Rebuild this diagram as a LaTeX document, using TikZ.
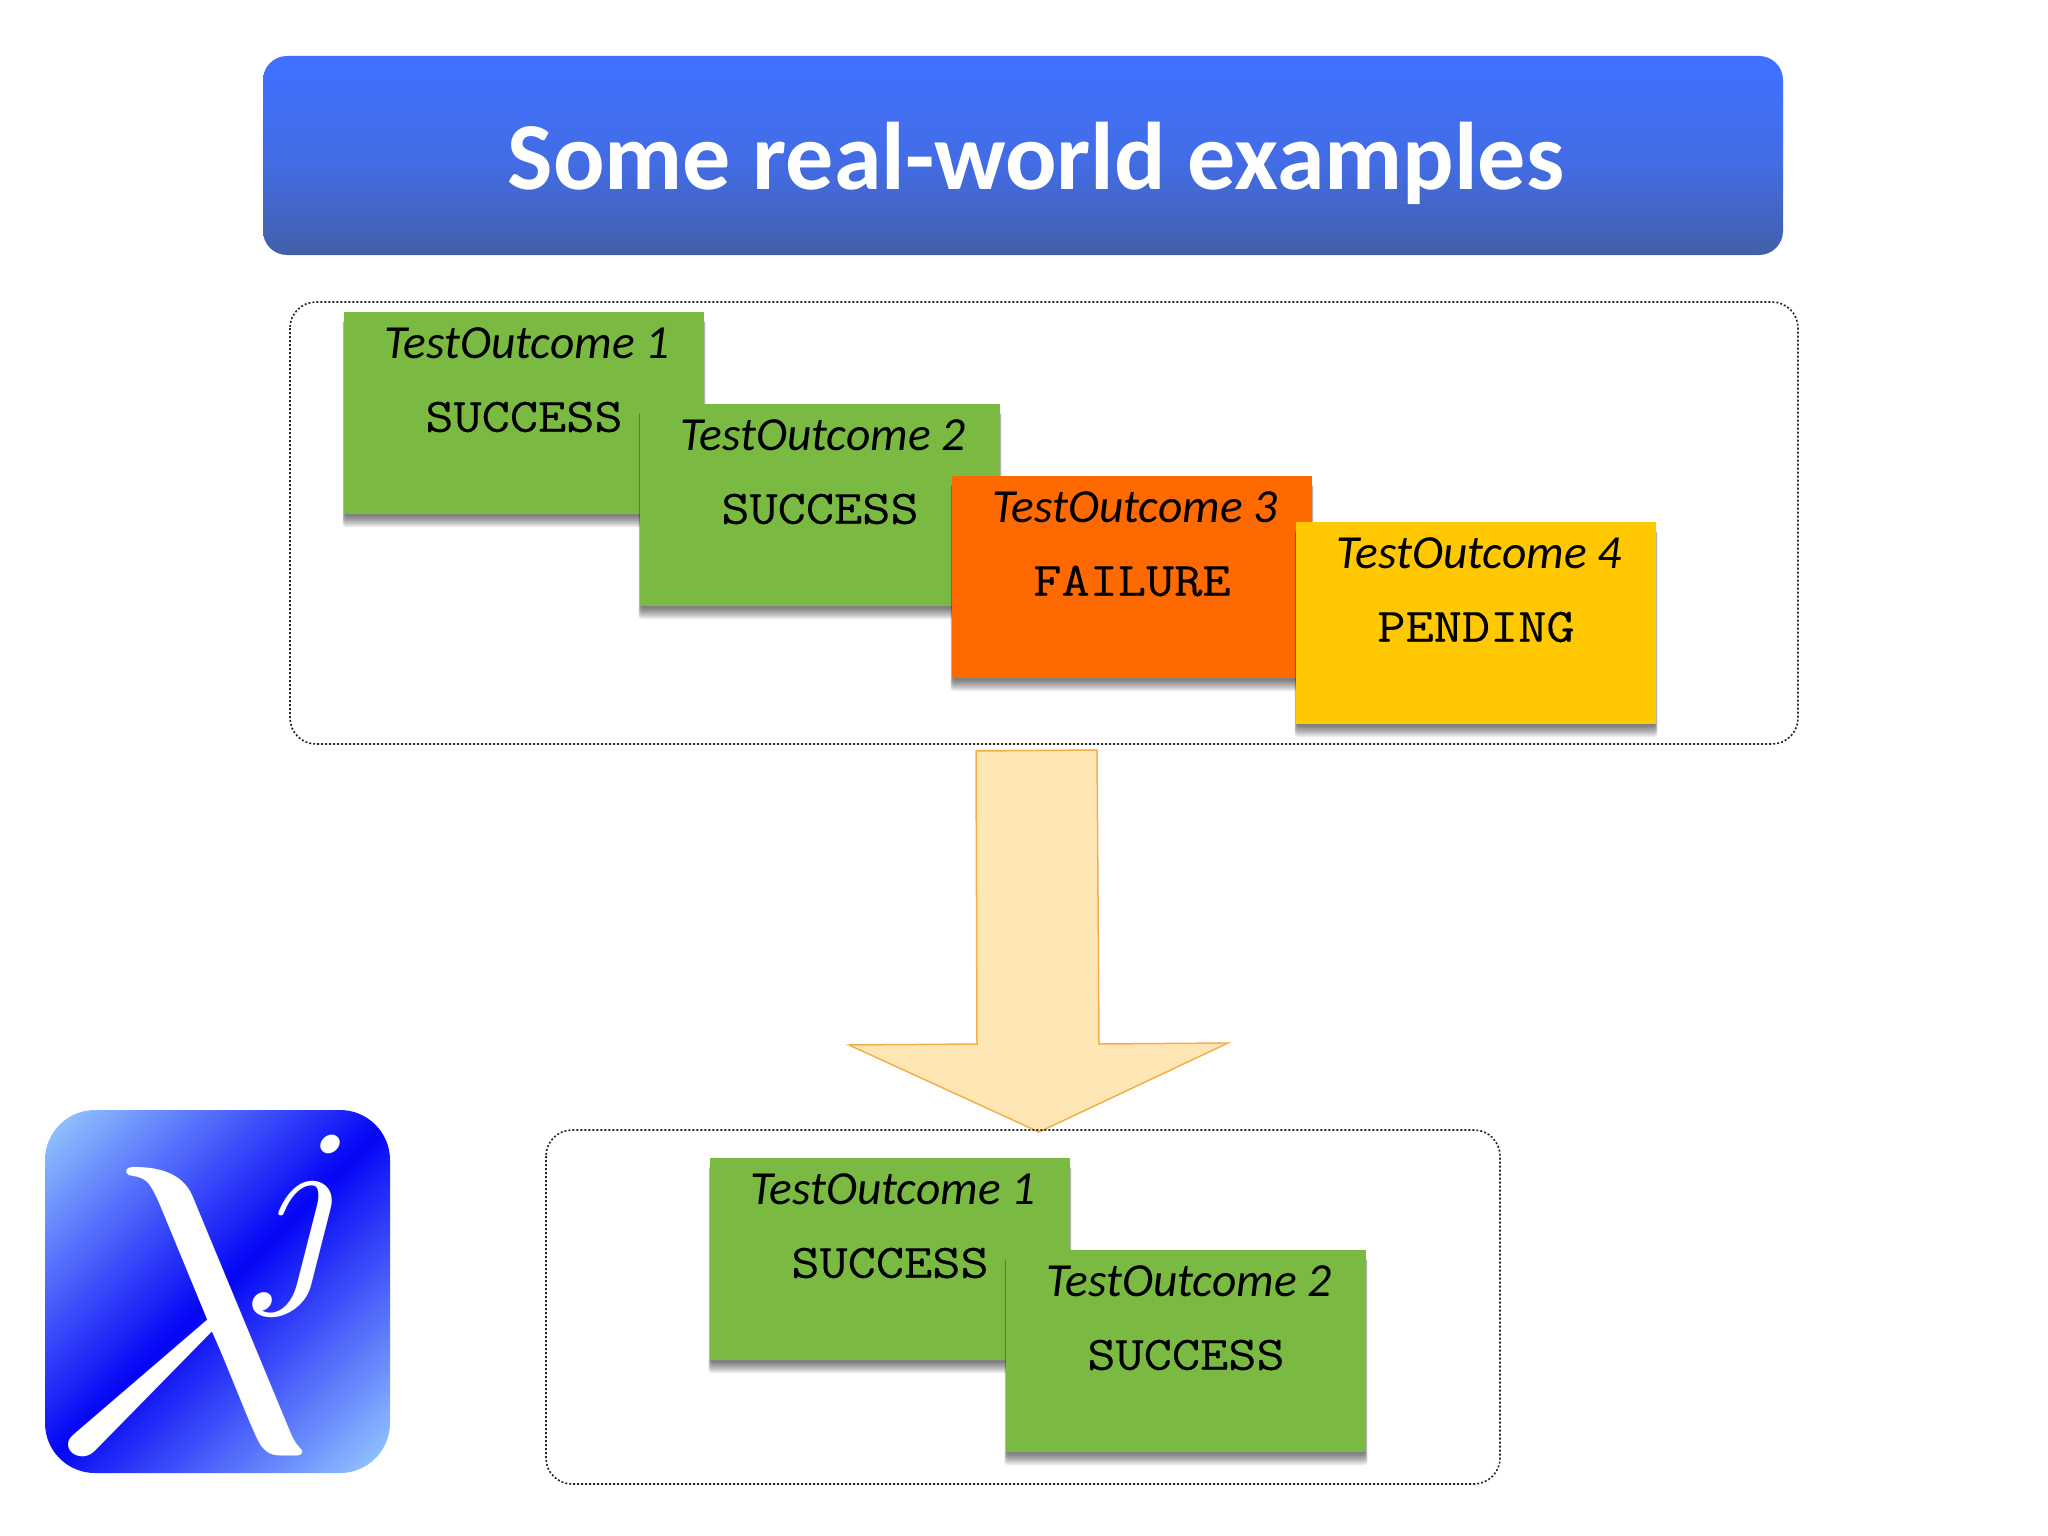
\documentclass[tikz,border=0pt]{standalone}
\usepackage{fontspec}
\setmainfont{Carlito}
\setmonofont[FakeStretch=1.14,FakeBold=0.35]{Latin Modern Mono}
\usetikzlibrary{calc}
\definecolor{cardgreen}{HTML}{7ABA43}
\definecolor{cardorange}{HTML}{FF6A00}
\definecolor{cardyellow}{HTML}{FFC800}
\definecolor{arrowfill}{HTML}{FFE6B5}
\definecolor{arrowline}{HTML}{F7AE4A}
\definecolor{titletop}{HTML}{4070FF}
\definecolor{titlemid}{HTML}{436CE4}
\definecolor{titlebot}{HTML}{4260A8}
\definecolor{logolight}{HTML}{90C0FF}
\definecolor{logoblue}{HTML}{0505F5}
\pgfdeclareverticalshading{titleshade}{100bp}{
  color(0bp)=(titlebot); color(25bp)=(titlebot); color(48bp)=(titlemid);
  color(72bp)=(titletop); color(100bp)=(titletop)}
\pgfdeclareverticalshading{logoshade}{100bp}{
  color(0bp)=(logolight); color(17bp)=(logolight); color(50bp)=(logoblue);
  color(83bp)=(logolight); color(100bp)=(logolight)}
\tikzset{
  x=1pt,y=-1pt,
  banner/.style={rounded corners=24pt,shading=titleshade},
  bannertext/.style={font=\fontsize{96}{100}\selectfont\bfseries,text=white,inner sep=0pt},
  group/.style={draw=black!85,line width=1.6pt,dash pattern=on 2pt off 2pt,rounded corners=26pt},
  card/.style={anchor=north west,minimum width=360pt,minimum height=202pt,inner sep=0pt,outer sep=0pt},
  cardtitle/.style={font=\fontsize{47.5}{50}\selectfont\itshape,inner sep=0pt},
  cardstatus/.style={font=\fontsize{48}{60}\selectfont\ttfamily,inner sep=0pt},
  shadowlayer/.style={fill=black,opacity=.08,draw=none,rounded corners=3pt},
  bigarrow/.style={fill=arrowfill,draw=arrowline,line width=1.5pt,line join=miter},
  logobox/.style={rounded corners=50pt,shading=logoshade,shading angle=45},
  logotext/.style={inner sep=0pt,text=white,anchor=north west},
}
\newcommand{\outcomecard}[6]{% name,x,y,colour,title,status
  \foreach \r in {0,...,7}{
    \fill[shadowlayer] ({#2+\r*.3-1.5},{#3+8}) rectangle ({#2+360+1.5-\r*.3},{#3+202+13-\r*1.5});
  }
  \node[card,fill=#4] (#1) at (#2,#3) {};
  \node[cardtitle] (#1t) at ($(#1.north)+(3,31)$) {#5};
  \node[cardstatus] (#1s) at ($(#1.north)+(0,105)$) {#6};
}
\begin{document}
\begin{tikzpicture}
\useasboundingbox (0,0) rectangle (2048,1536);
\fill[white] (0,0) rectangle (2048,1536);
% title
\path[banner] (263,56) rectangle (1783,255);
\node[bannertext] (title) at (1036,163) {Some real-world examples};
% top group
\draw[group] (290,302) rectangle (1798,744);
\outcomecard{a}{344}{312}{cardgreen}{TestOutcome 1}{SUCCESS}
\outcomecard{b}{640}{404}{cardgreen}{TestOutcome 2}{SUCCESS}
\outcomecard{c}{952}{476}{cardorange}{TestOutcome 3}{FAILURE}
\outcomecard{d}{1296}{522}{cardyellow}{TestOutcome 4}{PENDING}
% arrow
\draw[bigarrow] (976,751) -- (1097,750) -- (1099,1044) -- (1228,1043) -- (1039,1132)
  -- (849,1045) -- (977,1044) -- cycle;
% bottom group
\draw[group] (546,1130) rectangle (1500,1484);
\outcomecard{e}{710}{1158}{cardgreen}{TestOutcome 1}{SUCCESS}
\outcomecard{f}{1006}{1250}{cardgreen}{TestOutcome 2}{SUCCESS}
% logo
\path[logobox] (45,1110) rectangle (390,1473);
\node[logotext] (lam) at (43,1167) {\resizebox*{275pt}{284pt}{$\lambda$}};
\node[logotext] (jay) at (255,1135) {\resizebox*{100pt}{180pt}{$j$}};
\end{tikzpicture}
\end{document}
